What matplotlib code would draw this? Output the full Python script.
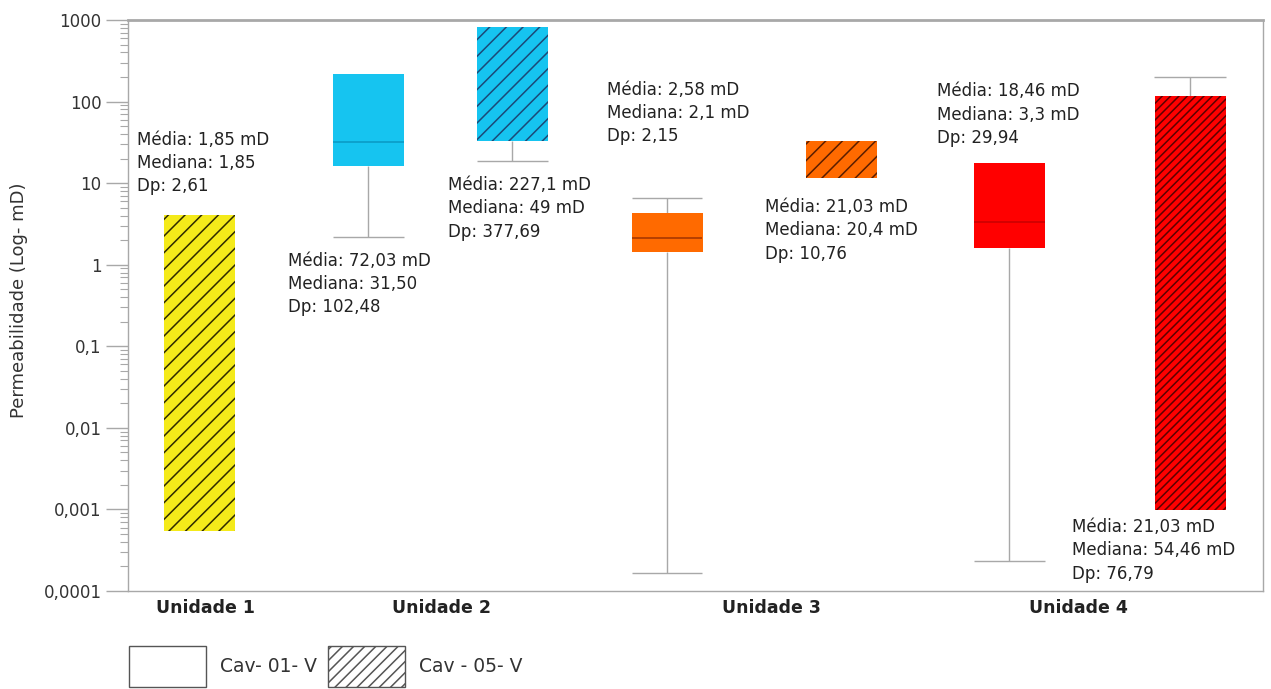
import numpy as np
import matplotlib.pyplot as plt
from matplotlib.patches import Patch

# quartis e bigodes (mD) de cada caixa, Cav-01 = sem hachura, Cav-05 = hachurada
poco = ['Cav-05', 'Cav-01', 'Cav-05', 'Cav-01', 'Cav-05', 'Cav-01', 'Cav-05']
q1 = [0.00055, 16.4, 32.6, 1.43, 11.7, 1.6, 0.00098]
q3 = [4.1, 218, 818, 4.3, 33, 17.8, 116]
mediana = [1.85, 31.5, 49, 2.1, 20.4, 3.3, 54.46]
bigode_inf = [np.nan, 2.2, 18.7, 0.000166, np.nan, 0.000233, np.nan]
bigode_sup = [np.nan, np.nan, np.nan, 6.6, np.nan, np.nan, 200]

media_txt = ['1,85 mD', '72,03 mD', '227,1 mD', '2,58 mD', '21,03 mD', '18,46 mD', '21,03 mD']
mediana_txt = ['1,85', '31,50', '49 mD', '2,1 mD', '20,4 mD', '3,3 mD', '54,46 mD']
dp_txt = ['2,61', '102,48', '377,69', '2,15', '10,76', '29,94', '76,79']

unidades = ['Unidade 1', 'Unidade 2', 'Unidade 3', 'Unidade 4']
yticks = [0.0001, 0.001, 0.01, 0.1, 1, 10, 100, 1000]
ytick_labels = ['0,0001', '0,001', '0,01', '0,1', '1', '10', '100', '1000']

# cores
cor = ['#f4ea1a', '#16c4f0', '#16c4f0', '#ff6a00', '#ff6a00', '#ff0000', '#ff0000']
cor_hachura = ['#2e2a00', None, '#1b4a78', None, '#5a1e00', None, '#5c0000']
cor_mediana = [None, '#0b9cc6', None, '#a83800', None, '#cc0000', None]
hachura = ['//', None, '//', None, '//', None, '////']

pos = [0.71, 2.40, 3.84, 5.39, 7.13, 8.81, 10.62]
pos_unid = [0.78, 3.13, 6.43, 9.50]
larg = 0.71
# posicao dos textos (fracao dos eixos)
txt_x = [0.008, 0.141, 0.282, 0.422, 0.561, 0.713, 0.832]
txt_y = [0.806, 0.594, 0.727, 0.894, 0.688, 0.891, 0.128]

plt.rcParams['font.family'] = ['DejaVu Sans']
plt.rcParams['hatch.linewidth'] = 1.1
fig = plt.figure(figsize=(12.71, 6.89), dpi=100)
ax = fig.add_axes([128 / 1271, 1 - 591 / 689, 1135 / 1271, 571 / 689])
ax.set_yscale('log')
ax.set_ylim(0.0001, 1000)
ax.set_xlim(0, 11.35)

cinza = '#a8a8a8'
for i in range(len(pos)):
    x = pos[i]
    # bigodes
    if not np.isnan(bigode_inf[i]):
        ax.vlines(x, bigode_inf[i], q1[i], color=cinza, lw=1, zorder=1)
        ax.hlines(bigode_inf[i], x - larg / 2, x + larg / 2, color=cinza, lw=1, zorder=1)
    if not np.isnan(bigode_sup[i]):
        ax.vlines(x, q3[i], bigode_sup[i], color=cinza, lw=1, zorder=1)
        ax.hlines(bigode_sup[i], x - larg / 2, x + larg / 2, color=cinza, lw=1, zorder=1)
    if hachura[i]:
        ax.bar(x, q3[i] - q1[i], bottom=q1[i], width=larg, color=cor[i],
               edgecolor=cor_hachura[i], hatch=hachura[i], linewidth=0, zorder=2)
    else:
        ax.bar(x, q3[i] - q1[i], bottom=q1[i], width=larg, color=cor[i],
               linewidth=0, zorder=2)
        ax.hlines(mediana[i], x - larg / 2, x + larg / 2, color=cor_mediana[i], lw=1.2, zorder=3)
    ax.text(txt_x[i], txt_y[i],
            'Média: ' + media_txt[i] + '\nMediana: ' + mediana_txt[i] + '\nDp: ' + dp_txt[i],
            transform=ax.transAxes, ha='left', va='top', fontsize=12, color='#222222',
            linespacing=1.38, zorder=4, clip_on=False)

for s in ax.spines.values():
    s.set_color(cinza)
    s.set_linewidth(1)
ax.spines['top'].set_linewidth(2)

ax.set_yticks(yticks)
ax.set_yticklabels(ytick_labels)
ax.tick_params(axis='y', which='major', length=16, width=1, color=cinza, pad=3,
               labelsize=12, labelcolor='#333333')
ax.tick_params(axis='y', which='minor', length=6, width=0.8, color=cinza)
ax.set_xticks(pos_unid)
ax.set_xticklabels(unidades, fontweight='bold')
ax.tick_params(axis='x', length=0, pad=6, labelsize=12.5, labelcolor='#222222')

ax.set_ylabel('Permeabilidade (Log- mD)', fontsize=13, color='#333333')
ax.yaxis.set_label_coords(-0.088, 0.51)

leg_handles = [Patch(facecolor='white', edgecolor='#555555', linewidth=1),
               Patch(facecolor='white', edgecolor='#555555', hatch='///', linewidth=1)]
fig.legend(leg_handles, ['Cav- 01- V', 'Cav - 05- V'], loc='lower left',
           bbox_to_anchor=(129 / 1271, 2 / 689), ncol=2, frameon=False, fontsize=13.5,
           handlelength=4.1, handleheight=2.95, handletextpad=0.75, columnspacing=0.6,
           borderpad=0, borderaxespad=0, labelcolor='#333333')

fig.savefig('out.png', dpi=100)
